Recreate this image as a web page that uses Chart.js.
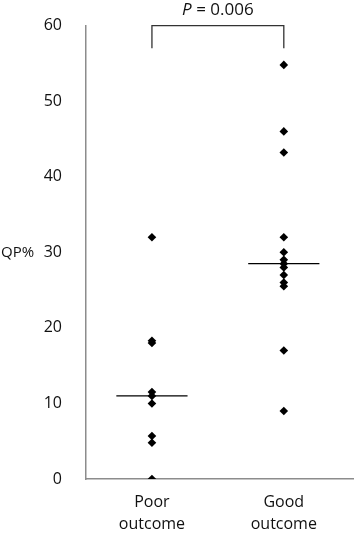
<!DOCTYPE html>
<html>
<head>
<meta charset="utf-8">
<script src="https://cdn.jsdelivr.net/npm/chart.js@4"></script>
<style>
  body { margin: 0; background: #fff; }
</style>
</head>
<body>
<canvas id="qpChart" width="358" height="533"></canvas>
<script>
// groups and QP% values
var groupLabels = [['Poor', 'outcome'], ['Good', 'outcome']];
var poorValues = [32, 18.3, 18, 11.5, 11, 10, 5.7, 4.8, 0];
var goodValues = [54.8, 46, 43.2, 32, 30, 29, 28.5, 28, 27, 26, 25.5, 17, 9];
var medians = [11, 28.5];
var yTicks = [0, 10, 20, 30, 40, 50, 60];
var pText = '= 0.006';

var FONT = '"Open Sans", "Liberation Sans", sans-serif';

function toPoints(values, x) {
    return values.map(function(v) { return { x: x, y: v }; });
}

// median bars, half width in x units
var halfW = 0.27;
var medianPoor = [{ x: 1 - halfW, y: medians[0] }, { x: 1 + halfW, y: medians[0] }];
var medianGood = [{ x: 2 - halfW, y: medians[1] }, { x: 2 + halfW, y: medians[1] }];
// significance bracket between groups
var bracket = [{ x: 1, y: 57 }, { x: 1, y: 60 }, { x: 2, y: 60 }, { x: 2, y: 57 }];

var extraText = {
    id: 'extraText',
    afterDraw: function(chart) {
        var ctx = chart.ctx;
        var ys = chart.scales.y;
        var xs = chart.scales.x;
        ctx.save();
        ctx.fillStyle = '#111';
        ctx.font = '15px ' + FONT;
        ctx.textBaseline = 'middle';
        ctx.textAlign = 'left';
        ctx.fillText('QP%', 1, ys.getPixelForValue(30));
        // P value above bracket
        var cx = (xs.getPixelForValue(1) + xs.getPixelForValue(2)) / 2;
        ctx.font = 'italic 17px ' + FONT;
        var wP = ctx.measureText('P ').width;
        ctx.font = '17px ' + FONT;
        var wRest = ctx.measureText(pText).width;
        var x0 = cx - (wP + wRest) / 2;
        ctx.font = 'italic 17px ' + FONT;
        ctx.fillText('P ', x0, 10);
        ctx.font = '17px ' + FONT;
        ctx.fillText(pText, x0 + wP, 10);
        ctx.restore();
    }
};

var chrt = document.getElementById('qpChart').getContext('2d');
var qpChart = new Chart(chrt, {
    type: 'scatter',
    data: {
        datasets: [{
            label: 'Poor outcome',
            data: toPoints(poorValues, 1),
            pointStyle: 'rectRot',
            pointRadius: 4.3,
            backgroundColor: '#000',
            borderColor: '#000',
            borderWidth: 0
        }, {
            label: 'Good outcome',
            data: toPoints(goodValues, 2),
            pointStyle: 'rectRot',
            pointRadius: 4.3,
            backgroundColor: '#000',
            borderColor: '#000',
            borderWidth: 0
        }, {
            type: 'line',
            data: medianPoor,
            borderColor: '#000',
            borderWidth: 1.3,
            pointRadius: 0
        }, {
            type: 'line',
            data: medianGood,
            borderColor: '#000',
            borderWidth: 1.3,
            pointRadius: 0
        }, {
            type: 'line',
            data: bracket,
            borderColor: '#333',
            borderWidth: 1.3,
            pointRadius: 0,
            clip: false
        }]
    },
    options: {
        responsive: false,
        animation: false,
        layout: { padding: { top: 21, left: 0, right: 0, bottom: 0 } },
        plugins: {
            legend: { display: false },
            tooltip: { enabled: false }
        },
        scales: {
            x: {
                type: 'linear',
                min: 0.5,
                max: 2.53,
                grid: { display: false },
                border: { display: true, color: '#8c8c8c', width: 1.5 },
                afterBuildTicks: function(scale) {
                    scale.ticks = [{ value: 1 }, { value: 2 }];
                },
                afterFit: function(scale) { scale.height = 54; },
                ticks: {
                    padding: 4,
                    color: '#111',
                    font: { family: FONT, size: 16, lineHeight: 1.4 },
                    maxRotation: 0,
                    callback: function(value) {
                        return groupLabels[Math.round(value) - 1];
                    }
                }
            },
            y: {
                min: 0,
                max: 60,
                grid: { display: false },
                border: { display: true, color: '#8c8c8c', width: 1.5 },
                afterBuildTicks: function(scale) {
                    scale.ticks = yTicks.map(function(v) { return { value: v }; });
                },
                afterFit: function(scale) { scale.width = 86; },
                ticks: {
                    padding: 16,
                    color: '#111',
                    font: { family: FONT, size: 16 }
                }
            }
        }
    },
    plugins: [extraText]
});
</script>
</body>
</html>
